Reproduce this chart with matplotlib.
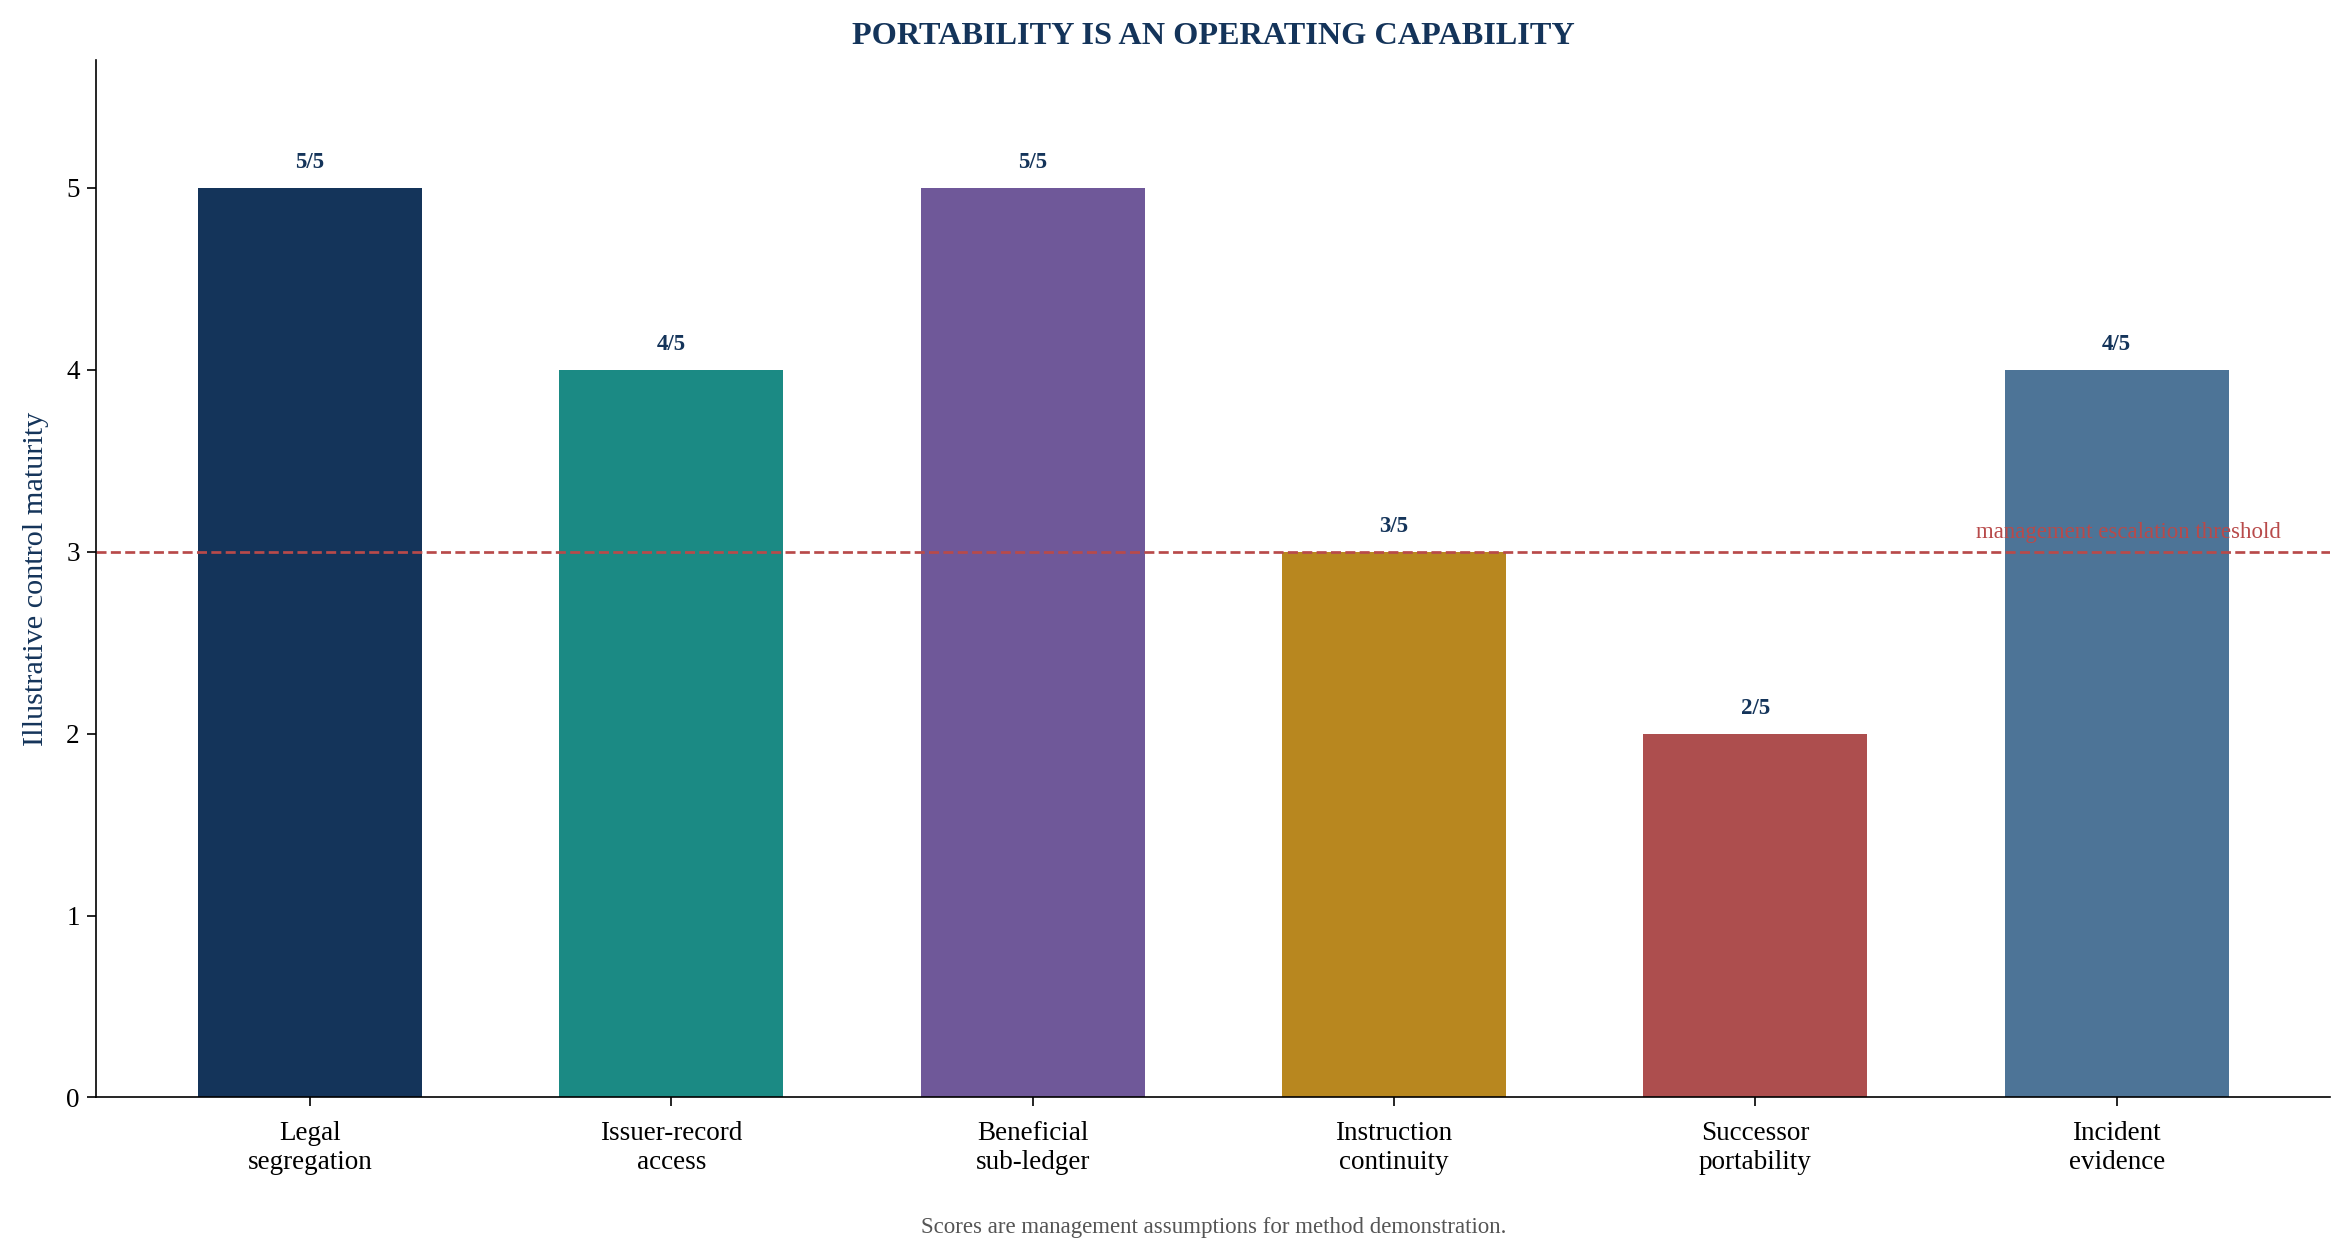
import matplotlib
matplotlib.use("Agg")
import matplotlib.pyplot as plt

categories = ["Legal\nsegregation", "Issuer-record\naccess", "Beneficial\nsub-ledger",
              "Instruction\ncontinuity", "Successor\nportability", "Incident\nevidence"]
scores = [5, 4, 5, 3, 2, 4]
score_labels = ["5/5", "4/5", "5/5", "3/5", "2/5", "4/5"]
colors = ["#14345a", "#1b8a84", "#6f5899", "#b8871f", "#ad4e4e", "#4d7497"]
threshold = 3

plt.rcParams['font.family'] = ['Liberation Serif', 'DejaVu Serif']

fig = plt.figure(figsize=(15.66, 8.4), dpi=150)
ax = fig.add_axes([0.041, 0.129, 0.951, 0.823])

x = list(range(len(categories)))
ax.bar(x, scores, width=0.62, color=colors)
for xi, s, lab in zip(x, scores, score_labels):
    ax.text(xi, s + 0.08, lab, ha='center', va='bottom', fontsize=11,
            fontweight='bold', color='#14345a')

ax.axhline(threshold, color='#b84a4a', linestyle='--', linewidth=1.3)
ax.text(0.978, threshold + 0.05, "management escalation threshold",
        transform=ax.get_yaxis_transform(), ha='right', va='bottom',
        fontsize=11, color='#b84a4a')

ax.set_ylim(0, 5.7)
ax.set_xticks(x)
ax.set_xticklabels(categories, fontsize=13)
ax.tick_params(axis='x', length=4.5, pad=7)
ax.tick_params(axis='y', labelsize=13, length=4.5)
ax.set_ylabel("Illustrative control maturity", fontsize=14.5, color='#14345a', labelpad=8)
ax.spines['top'].set_visible(False)
ax.spines['right'].set_visible(False)

ax.set_title("PORTABILITY IS AN OPERATING CAPABILITY", fontsize=15.5,
             fontweight='bold', color='#14345a', pad=8)
ax.text(0.5, -0.115, "Scores are management assumptions for method demonstration.",
        transform=ax.transAxes, ha='center', va='top', fontsize=11, color='#555555')

fig.savefig("out.png", dpi=150)
